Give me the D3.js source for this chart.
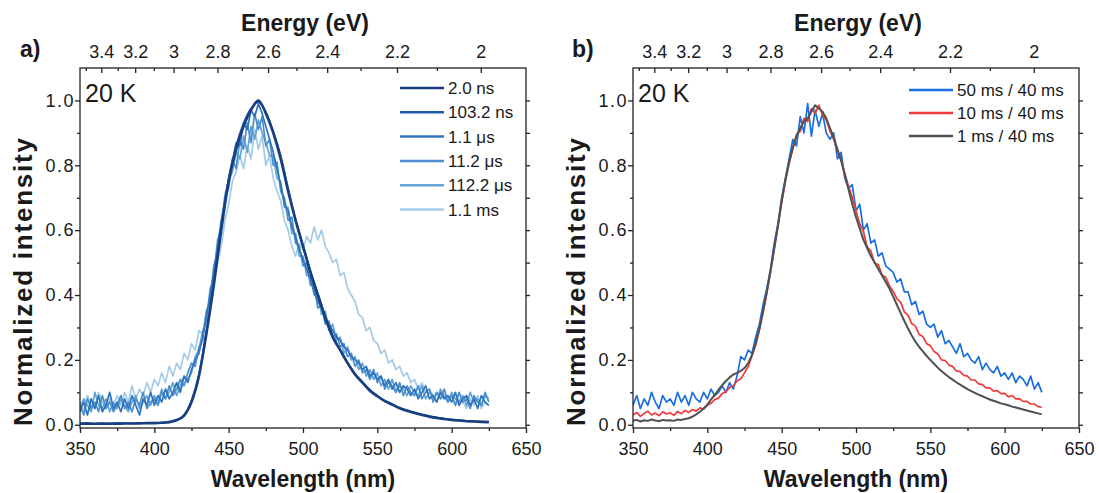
<!DOCTYPE html>
<html><head><meta charset="utf-8">
<script src="https://cdn.jsdelivr.net/npm/d3@7"></script>
<style>
body{margin:0;background:#fff}
svg{display:block}
text{font-family:Arial,"Liberation Sans",sans-serif;fill:#1a1a1a}
</style>
</head><body>
<svg id="chart" width="1099" height="493"></svg>
<script>
// ---------- DATA ----------
// wavelength grids (nm): noisy spectra sampled every 2.5 nm, smooth spectra every 5 nm, from 350 to 625 nm
const noisyStart = 350, noisyStep = 2.5;
const smoothStart = 350, smoothStep = 5;

const wavelengthTicks = [350, 400, 450, 500, 550, 600, 650];
const wavelengthMinor = [375, 425, 475, 525, 575, 625];
const intensityTicks = [0, 0.2, 0.4, 0.6, 0.8, 1.0];
const intensityMinor = [0.1, 0.3, 0.5, 0.7, 0.9];
const energyTicks = [3.4, 3.2, 3.0, 2.8, 2.6, 2.4, 2.2, 2.0];
const energyLabels = ["3.4", "3.2", "3", "2.8", "2.6", "2.4", "2.2", "2"];
const energyMinor = [3.5, 3.3, 3.1, 2.9, 2.7, 2.5, 2.3, 2.1];

// Panel a) series
const seriesA_names = ["2.0 ns", "103.2 ns", "1.1 \u03bcs", "11.2 \u03bcs", "112.2 \u03bcs", "1.1 ms"];

const ns2_0 = [0.003,0.003,0.003,0.003,0.003,0.003,0.004,0.004,0.004,0.005,0.005,0.006,0.008,0.014,0.028,0.07,0.15,0.28,0.43,0.60,
  0.75,0.85,0.92,0.97,1.0,0.96,0.90,0.82,0.72,0.63,0.55,0.47,0.40,0.33,0.27,0.23,0.19,0.155,0.13,0.105,
  0.088,0.073,0.062,0.051,0.043,0.036,0.030,0.025,0.021,0.018,0.015,0.013,0.011,0.010,0.009,0.008];

const ns103_2 = [0.004,0.006,0.003,0.005,0.004,0.006,0.005,0.004,0.006,0.005,0.006,0.007,0.010,0.016,0.030,0.075,0.155,0.29,0.44,0.61,
  0.76,0.86,0.93,0.975,0.995,0.965,0.905,0.83,0.73,0.635,0.555,0.475,0.405,0.335,0.275,0.232,0.192,0.158,0.132,0.108,
  0.090,0.075,0.064,0.053,0.045,0.038,0.032,0.027,0.023,0.019,0.016,0.014,0.012,0.011,0.010,0.009];

const us1_1 = [0.04,0.07,0.03,0.08,0.05,0.09,0.04,0.06,0.10,0.05,
  0.07,0.04,0.08,0.05,0.09,0.06,0.03,0.08,0.06,0.10,
  0.06,0.09,0.07,0.11,0.08,0.10,0.13,0.10,0.15,0.13,
  0.17,0.20,0.22,0.27,0.33,0.40,0.47,0.55,0.63,0.69,
  0.76,0.81,0.87,0.86,0.93,0.91,0.97,0.95,0.99,0.96,
  0.92,0.88,0.84,0.79,0.74,0.68,0.66,0.61,0.58,0.54,
  0.51,0.48,0.45,0.41,0.38,0.36,0.32,0.31,0.29,0.27,
  0.26,0.24,0.23,0.21,0.20,0.19,0.17,0.18,0.15,0.16,
  0.14,0.15,0.12,0.14,0.11,0.13,0.10,0.12,0.11,0.09,
  0.11,0.08,0.10,0.12,0.08,0.09,0.07,0.10,0.08,0.09,
  0.07,0.10,0.06,0.08,0.09,0.06,0.08,0.05,0.09,0.07,
  0.06];

const us11_2 = [0.06,0.03,0.08,0.05,0.07,0.04,0.09,0.05,0.07,0.04,
  0.06,0.09,0.05,0.07,0.04,0.08,0.06,0.10,0.05,0.07,
  0.08,0.06,0.10,0.08,0.12,0.09,0.11,0.14,0.12,0.16,
  0.19,0.18,0.24,0.26,0.35,0.38,0.49,0.53,0.62,0.70,
  0.73,0.82,0.79,0.88,0.85,0.93,0.87,0.96,0.91,0.95,
  0.86,0.88,0.80,0.81,0.72,0.70,0.63,0.64,0.56,0.55,
  0.49,0.50,0.43,0.43,0.36,0.37,0.31,0.32,0.27,0.28,
  0.24,0.25,0.21,0.22,0.18,0.20,0.16,0.17,0.14,0.17,
  0.13,0.15,0.11,0.13,0.12,0.10,0.13,0.09,0.12,0.10,
  0.09,0.12,0.08,0.10,0.11,0.07,0.10,0.08,0.11,0.07,
  0.09,0.06,0.10,0.07,0.08,0.05,0.09,0.07,0.06,0.10,
  0.07];

const us112_2 = [0.05,0.08,0.06,0.04,0.10,0.06,0.05,0.08,0.04,0.07,
  0.05,0.08,0.06,0.04,0.07,0.09,0.05,0.07,0.09,0.06,
  0.09,0.07,0.11,0.08,0.10,0.13,0.09,0.12,0.15,0.14,
  0.16,0.21,0.23,0.29,0.32,0.42,0.45,0.57,0.60,0.71,
  0.75,0.78,0.84,0.82,0.89,0.84,0.92,0.88,0.94,0.90,
  0.87,0.83,0.83,0.76,0.75,0.67,0.67,0.59,0.59,0.52,
  0.52,0.46,0.46,0.40,0.40,0.34,0.35,0.29,0.31,0.26,
  0.27,0.22,0.24,0.20,0.21,0.17,0.19,0.15,0.17,0.14,
  0.16,0.12,0.14,0.11,0.14,0.10,0.12,0.11,0.09,0.12,
  0.10,0.09,0.12,0.08,0.10,0.09,0.07,0.11,0.09,0.07,
  0.10,0.08,0.07,0.09,0.06,0.10,0.07,0.08,0.06,0.09,
  0.08];

const ms1_1 = [0.07,0.04,0.09,0.06,0.05,0.10,0.07,0.05,0.08,0.06,
  0.09,0.06,0.10,0.07,0.12,0.08,0.11,0.09,0.13,0.10,
  0.14,0.12,0.16,0.13,0.18,0.15,0.19,0.17,0.22,0.20,
  0.25,0.23,0.29,0.28,0.35,0.38,0.44,0.50,0.55,0.63,
  0.68,0.75,0.78,0.83,0.79,0.86,0.82,0.91,0.85,0.89,
  0.80,0.83,0.76,0.72,0.69,0.63,0.60,0.55,0.52,0.56,
  0.54,0.58,0.56,0.61,0.57,0.60,0.55,0.53,0.50,0.51,
  0.46,0.47,0.42,0.40,0.38,0.34,0.33,0.29,0.30,0.26,
  0.25,0.22,0.23,0.19,0.20,0.17,0.18,0.15,0.16,0.13,
  0.14,0.11,0.13,0.10,0.11,0.09,0.10,0.08,0.09,0.07,
  0.09,0.06,0.08,0.07,0.05,0.08,0.06,0.09,0.05,0.07,
  0.06];

// Panel b) series
const seriesB_names = ["50 ms / 40 ms", "10 ms / 40 ms", "1 ms / 40 ms"];

const ms50 = [0.06,0.09,0.05,0.08,0.06,0.10,0.07,0.05,0.09,0.07,
  0.08,0.06,0.10,0.07,0.09,0.06,0.10,0.08,0.07,0.10,
  0.08,0.11,0.09,0.10,0.12,0.10,0.13,0.11,0.15,0.21,
  0.20,0.23,0.22,0.27,0.31,0.37,0.42,0.48,0.56,0.62,
  0.70,0.76,0.82,0.88,0.86,0.95,0.90,0.99,0.89,0.97,
  0.92,0.96,0.90,0.88,0.90,0.82,0.84,0.76,0.73,0.74,
  0.66,0.68,0.60,0.62,0.56,0.57,0.52,0.53,0.49,0.48,
  0.47,0.44,0.45,0.41,0.41,0.37,0.38,0.34,0.35,0.31,
  0.30,0.31,0.27,0.29,0.25,0.26,0.24,0.22,0.25,0.21,
  0.22,0.20,0.19,0.21,0.17,0.19,0.17,0.16,0.18,0.15,
  0.16,0.14,0.16,0.13,0.15,0.14,0.12,0.15,0.11,0.13,
  0.10];

const ms10 = [0.030,0.038,0.026,0.035,0.042,0.030,0.036,0.028,0.040,0.033,
  0.037,0.029,0.041,0.034,0.044,0.038,0.047,0.042,0.052,0.048,
  0.060,0.066,0.078,0.082,0.096,0.102,0.115,0.120,0.135,0.142,
  0.160,0.180,0.212,0.245,0.292,0.345,0.405,0.470,0.540,0.610,
  0.685,0.750,0.805,0.850,0.895,0.905,0.945,0.935,0.975,0.960,
  0.985,0.955,0.940,0.905,0.880,0.845,0.815,0.775,0.735,0.700,
  0.660,0.620,0.596,0.548,0.536,0.498,0.494,0.462,0.455,0.428,
  0.412,0.388,0.378,0.348,0.338,0.312,0.304,0.278,0.272,0.250,
  0.244,0.226,0.218,0.200,0.198,0.184,0.180,0.166,0.164,0.152,
  0.150,0.138,0.138,0.126,0.124,0.114,0.114,0.104,0.105,0.096,
  0.097,0.086,0.090,0.080,0.080,0.072,0.072,0.064,0.064,0.056,
  0.054];

const ms1 = [0.012,0.015,0.010,0.014,0.012,0.016,0.013,0.011,0.015,0.013,
  0.014,0.012,0.016,0.015,0.018,0.020,0.025,0.032,0.040,0.050,
  0.062,0.078,0.092,0.108,0.122,0.135,0.146,0.155,0.160,0.166,
  0.175,0.190,0.215,0.250,0.295,0.350,0.410,0.475,0.545,0.615,
  0.690,0.755,0.810,0.855,0.890,0.915,0.935,0.945,0.965,0.985,
  0.975,0.965,0.945,0.915,0.885,0.850,0.815,0.770,0.725,0.680,
  0.640,0.605,0.570,0.545,0.520,0.500,0.480,0.460,0.440,0.420,
  0.395,0.370,0.345,0.320,0.297,0.275,0.256,0.240,0.226,0.212,
  0.200,0.188,0.176,0.166,0.156,0.147,0.139,0.131,0.124,0.117,
  0.110,0.104,0.098,0.093,0.088,0.083,0.078,0.074,0.070,0.066,
  0.063,0.060,0.056,0.053,0.050,0.047,0.044,0.041,0.038,0.035,
  0.032];

// ---------- DRAWING ----------
const svg = d3.select("#chart");
const TOP = 68, BOTTOM = 428;
const FONT = 'Arial,"Liberation Sans",sans-serif';
const TICK_FS = 18;

function toPoints(vals, start, step) { return vals.map((v, i) => [start + i * step, v]); }

function drawPanel(cfg) {
  const g = svg.append("g");
  const x = d3.scaleLinear().domain([350, 650]).range([cfg.left, cfg.right]);
  const y = d3.scaleLinear().domain([-0.01, 1.1]).range([BOTTOM, TOP]);
  const clipId = "clip" + cfg.id;
  svg.append("clipPath").attr("id", clipId).append("rect")
    .attr("x", cfg.left).attr("y", TOP).attr("width", cfg.right - cfg.left).attr("height", BOTTOM - TOP);

  const line = d3.line().x(d => x(d[0])).y(d => y(d[1]));
  const plot = g.append("g").attr("clip-path", `url(#${clipId})`);
  cfg.series.forEach(s => {
    plot.append("path")
      .attr("d", line.curve(s.smooth ? d3.curveMonotoneX : d3.curveLinear)(toPoints(s.values, s.start, s.step)))
      .attr("fill", "none").attr("stroke", s.color).attr("stroke-width", s.width)
      .attr("stroke-linejoin", "round");
  });

  // frame
  g.append("rect").attr("x", cfg.left).attr("y", TOP).attr("width", cfg.right - cfg.left).attr("height", BOTTOM - TOP)
    .attr("fill", "none").attr("stroke", "#222").attr("stroke-width", 1.3);

  const styleAxis = (sel) => {
    sel.select(".domain").remove();
    sel.selectAll("line").attr("stroke", "#222").attr("stroke-width", 1.3);
    sel.selectAll("text").attr("font-family", FONT).attr("font-size", TICK_FS).attr("fill", "#1a1a1a");
  };

  // bottom axis
  g.append("g").attr("transform", `translate(0,${BOTTOM})`)
    .call(d3.axisBottom(x).tickValues(wavelengthTicks).tickSize(5).tickPadding(9).tickFormat(d3.format("d")))
    .call(styleAxis);
  g.append("g").attr("transform", `translate(0,${BOTTOM})`)
    .call(d3.axisBottom(x).tickValues(wavelengthMinor).tickSize(3).tickFormat(""))
    .call(styleAxis);

  // left axis
  g.append("g").attr("transform", `translate(${cfg.left},0)`)
    .call(d3.axisLeft(y).tickValues(intensityTicks).tickSize(5).tickPadding(0).tickFormat(d3.format(".1f")))
    .call(styleAxis)
    .selectAll("text").attr("letter-spacing", 1.5);
  g.append("g").attr("transform", `translate(${cfg.left},0)`)
    .call(d3.axisLeft(y).tickValues(intensityMinor).tickSize(3).tickFormat(""))
    .call(styleAxis);

  // right axis (ticks only)
  g.append("g").attr("transform", `translate(${cfg.right},0)`)
    .call(d3.axisRight(y).tickValues(intensityTicks.concat(intensityMinor)).tickSize(4).tickFormat(""))
    .call(styleAxis);

  // top energy axis (ticks inward, labels above)
  const ex = e => x(1239.84 / e);
  const top = g.append("g");
  top.selectAll("line.maj").data(energyTicks).join("line").attr("class", "maj")
    .attr("x1", ex).attr("x2", ex).attr("y1", TOP).attr("y2", TOP + 5)
    .attr("stroke", "#222").attr("stroke-width", 1.3);
  top.selectAll("line.min").data(energyMinor).join("line").attr("class", "min")
    .attr("x1", ex).attr("x2", ex).attr("y1", TOP).attr("y2", TOP + 3)
    .attr("stroke", "#222").attr("stroke-width", 1.3);
  top.selectAll("text").data(energyTicks).join("text")
    .attr("x", ex).attr("y", 58).attr("text-anchor", "middle")
    .attr("font-size", TICK_FS).text((d, i) => energyLabels[i]);

  // titles
  g.append("text").attr("x", (cfg.left + cfg.right) / 2 + 2).attr("y", 31).attr("text-anchor", "middle")
    .attr("font-size", 23).attr("font-weight", "bold").text("Energy (eV)");
  g.append("text").attr("x", (cfg.left + cfg.right) / 2).attr("y", 487).attr("text-anchor", "middle")
    .attr("font-size", 23).attr("font-weight", "bold").text("Wavelength (nm)");
  g.append("text").attr("transform", `translate(${cfg.left - 48},${282}) rotate(-90)`).attr("text-anchor", "middle")
    .attr("font-size", 26).attr("font-weight", "bold")
    .attr("textLength", 288).attr("lengthAdjust", "spacing").text("Normalized intensity");
  g.append("text").attr("x", cfg.labelX).attr("y", 57).attr("font-size", 23).attr("font-weight", "bold").text(cfg.label);
  g.append("text").attr("x", cfg.left + 5).attr("y", 102).attr("font-size", 25).text("20 K");

  // legend
  const lg = g.append("g");
  cfg.legendItems.forEach((it, i) => {
    const yy = cfg.legendY + i * cfg.legendDy;
    lg.append("line").attr("x1", cfg.legendX).attr("x2", cfg.legendX + 44).attr("y1", yy).attr("y2", yy)
      .attr("stroke", it.color).attr("stroke-width", 2.5);
    lg.append("text").attr("x", cfg.legendX + 48).attr("y", yy + 6).attr("font-size", 17).text(it.name);
  });
}

const colA = ["#173f80", "#1d58a6", "#2f73bd", "#4a8fcb", "#62a4d6", "#a4cbe6"];
const valsA = [ns2_0, ns103_2, us1_1, us11_2, us112_2, ms1_1];
const smoothA = [true, true, false, false, false, false];
const seriesA = valsA.map((v, i) => ({
  values: v, color: colA[i], smooth: smoothA[i],
  start: smoothA[i] ? smoothStart : noisyStart, step: smoothA[i] ? smoothStep : noisyStep,
  width: i === 0 ? 2.6 : 1.7
})).reverse();

drawPanel({
  id: "a", left: 80, right: 526, label: "a)", labelX: 20,
  series: seriesA,
  legendX: 400, legendY: 88, legendDy: 24.3,
  legendItems: seriesA_names.map((n, i) => ({ name: n, color: colA[i] }))
});

const colB = ["#1a6fe0", "#ef3b3b", "#505050"];
const valsB = [ms50, ms10, ms1];
const seriesB = valsB.map((v, i) => ({
  values: v, color: colB[i], smooth: false, start: noisyStart, step: noisyStep, width: i === 2 ? 2 : 1.7
}));

drawPanel({
  id: "b", left: 633, right: 1079, label: "b)", labelX: 572,
  series: seriesB,
  legendX: 909, legendY: 90, legendDy: 23,
  legendItems: seriesB_names.map((n, i) => ({ name: n, color: colB[i] }))
});
</script>
</body></html>
